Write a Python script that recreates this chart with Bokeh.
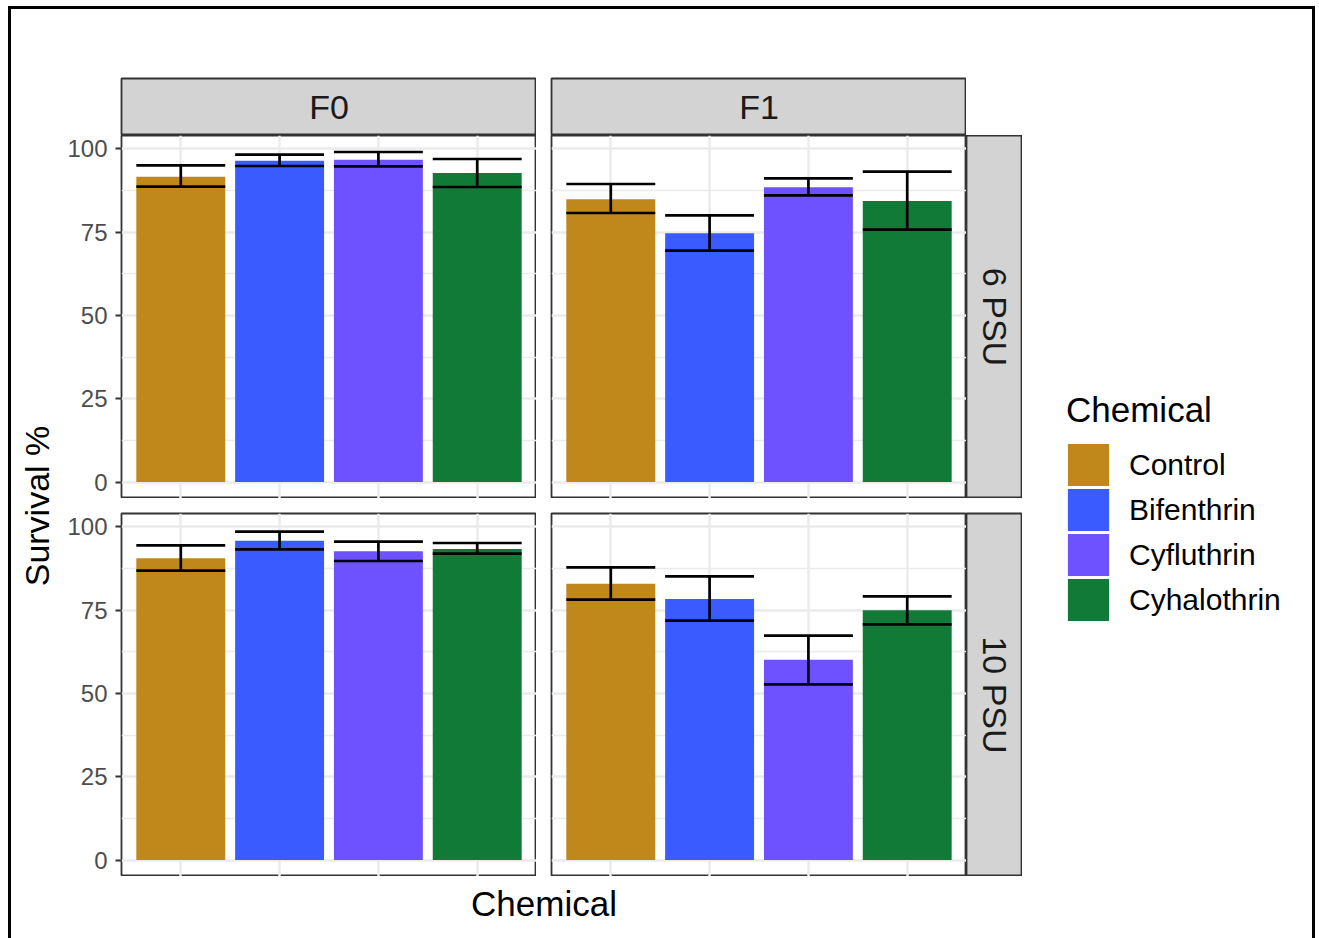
import numpy as np
from bokeh.plotting import figure
from bokeh.models import (Range1d, FactorRange, LinearAxis, Grid, FixedTicker,
                          CategoricalTicker, ColumnDataSource, Legend, LegendItem)
from bokeh.transform import dodge
from bokeh.layouts import row, column
from bokeh.core.properties import value
from bokeh.embed import file_html
from bokeh.resources import INLINE

# ---------------- data ----------------
chemicals = ["Control", "Bifenthrin", "Cyfluthrin", "Cyhalothrin"]
colors = ["#C0871A", "#3A5BFF", "#6F52FF", "#117A36"]
generations = ["F0", "F1"]
salinities = ["6 PSU", "10 PSU"]
y_ticks = [0, 25, 50, 75, 100]
y_minor = [12.5, 37.5, 62.5, 87.5]

f0_6_mean = [91.6, 96.4, 96.7, 92.7]
f0_6_hi = [95.0, 98.2, 99.0, 96.9]
f0_6_lo = [88.6, 94.8, 94.7, 88.5]

f1_6_mean = [84.8, 74.6, 88.4, 84.3]
f1_6_hi = [89.4, 80.0, 91.1, 93.1]
f1_6_lo = [80.7, 69.4, 86.0, 75.7]

f0_10_mean = [90.5, 95.8, 92.6, 93.3]
f0_10_hi = [94.4, 98.5, 95.5, 95.1]
f0_10_lo = [86.8, 93.2, 89.7, 91.9]

f1_10_mean = [82.9, 78.3, 60.1, 74.9]
f1_10_hi = [87.8, 85.1, 67.3, 79.1]
f1_10_lo = [78.1, 71.8, 52.7, 70.7]

panel_data = {
    ("6 PSU", "F0"): (f0_6_mean, f0_6_lo, f0_6_hi),
    ("6 PSU", "F1"): (f1_6_mean, f1_6_lo, f1_6_hi),
    ("10 PSU", "F0"): (f0_10_mean, f0_10_lo, f0_10_hi),
    ("10 PSU", "F1"): (f1_10_mean, f1_10_lo, f1_10_hi),
}

FONT = "Liberation Sans"
GRID = "#EBEBEB"
DARK = "#333333"
STRIP = "#D3D3D3"

all_hi = f0_6_hi + f1_6_hi + f0_10_hi + f1_10_hi
ymax = max(all_hi)
pad = 0.05 * ymax
y_range = Range1d(-pad, ymax + pad)

PANEL_W = 415
PANEL_H = 363
LEFT_W = 60
GAP = 15
STRIP_TOP_H = 57
TOP_MARGIN = 69
STRIP_R_W = 56
XL_H = 62
YL_W = 50
LG_W = 290


def base_fig(**kw):
    opts = dict(toolbar_location=None, output_backend="svg", title=None,
                x_axis_location=None, y_axis_location=None,
                min_border_left=0, min_border_right=0,
                min_border_top=0, min_border_bottom=0,
                background_fill_color="white", border_fill_color="white")
    opts.update(kw)
    p = figure(**opts)
    p.center = [c for c in p.center if not isinstance(c, Grid)]
    return p


def make_panel(sal, gen, show_y, top_gap):
    mean, lo, hi = panel_data[(sal, gen)]
    mbl = LEFT_W if show_y else GAP
    xr = FactorRange(factors=chemicals, range_padding=0.1, range_padding_units="absolute")
    p = base_fig(x_range=xr, y_range=y_range,
                 width=mbl + PANEL_W, height=top_gap + PANEL_H,
                 min_border_left=mbl, min_border_top=top_gap,
                 outline_line_color=DARK, outline_line_width=1.8)
    p.add_layout(Grid(dimension=0, ticker=CategoricalTicker(),
                      grid_line_color=GRID, grid_line_width=2.5))
    p.add_layout(Grid(dimension=1, ticker=FixedTicker(ticks=y_ticks, minor_ticks=y_minor),
                      grid_line_color=GRID, grid_line_width=2.5,
                      minor_grid_line_color=GRID, minor_grid_line_width=1.3))
    src = ColumnDataSource(dict(chem=chemicals, mean=mean, lo=lo, hi=hi, color=colors))
    p.vbar(x="chem", top="mean", bottom=0, width=0.9, fill_color="color",
           line_color=None, source=src)
    p.segment(x0="chem", x1="chem", y0="lo", y1="hi", line_color="black",
              line_width=2.7, source=src)
    for col in ["lo", "hi"]:
        p.segment(x0=dodge("chem", -0.45, range=xr), x1=dodge("chem", 0.45, range=xr),
                  y0=col, y1=col, line_color="black", line_width=2.7, source=src)
    if show_y:
        ax = LinearAxis(ticker=FixedTicker(ticks=y_ticks))
        ax.axis_line_color = None
        ax.major_tick_line_color = DARK
        ax.major_tick_line_width = 1.8
        ax.major_tick_out = 6
        ax.major_tick_in = 0
        ax.minor_tick_line_color = None
        ax.major_label_standoff = 8
        ax.major_label_text_font = FONT
        ax.major_label_text_font_size = "24px"
        ax.major_label_text_color = "#4D4D4D"
        p.add_layout(ax, "left")
    return p


def strip_top(label, mbl):
    p = base_fig(width=mbl + PANEL_W, height=TOP_MARGIN + STRIP_TOP_H,
                 min_border_left=mbl, min_border_top=TOP_MARGIN,
                 x_range=Range1d(0, 1), y_range=Range1d(0, 1),
                 background_fill_color=STRIP, outline_line_color=DARK,
                 outline_line_width=1.8)
    p.text(x=[0.5], y=[0.5], text=[label], text_align="center", text_baseline="middle",
           text_font=value(FONT), text_font_size="34px", text_color="#1A1A1A")
    return p


def strip_right(label, top_gap):
    p = base_fig(width=STRIP_R_W, height=top_gap + PANEL_H, min_border_top=top_gap,
                 x_range=Range1d(0, 1), y_range=Range1d(0, 1),
                 background_fill_color=STRIP, outline_line_color=DARK,
                 outline_line_width=1.8)
    p.text(x=[0.5], y=[0.5], text=[label], angle=-np.pi / 2, text_align="center",
           text_baseline="middle", text_font=value(FONT), text_font_size="34px",
           text_color="#1A1A1A")
    return p


# strips row
s_f0 = strip_top(generations[0], LEFT_W)
s_f1 = strip_top(generations[1], GAP)

rows = [row(s_f0, s_f1)]
for i, sal in enumerate(salinities):
    tg = 0 if i == 0 else GAP
    pa = make_panel(sal, generations[0], True, tg)
    pb = make_panel(sal, generations[1], False, tg)
    sr = strip_right(sal, tg)
    rows.append(row(pa, pb, sr))

xl = base_fig(width=LEFT_W + 2 * PANEL_W + GAP, height=XL_H, min_border_left=LEFT_W,
              x_range=Range1d(0, 1), y_range=Range1d(0, 1), outline_line_color=None)
xl.text(x=[0.5], y=[0.565], text=["Chemical"], text_align="center", text_baseline="middle",
        text_font=value(FONT), text_font_size="35px", text_color="black")
rows.append(xl)
main = column(*rows)

TOTAL_H = TOP_MARGIN + STRIP_TOP_H + PANEL_H + GAP + PANEL_H + XL_H

yl = base_fig(width=YL_W, height=TOTAL_H, min_border_top=TOP_MARGIN + STRIP_TOP_H,
              min_border_bottom=XL_H, x_range=Range1d(0, 1), y_range=Range1d(0, 1),
              outline_line_color=None)
yl.text(x=[0.5], y=[0.5], text=["Survival %"], angle=np.pi / 2, text_align="center",
        text_baseline="middle", text_font=value(FONT), text_font_size="34px",
        text_color="black")

lg = base_fig(width=LG_W, height=TOTAL_H, x_range=Range1d(0, 1), y_range=Range1d(0, 1),
              outline_line_color=None)
items = []
for c, col in zip(chemicals, colors):
    r = lg.vbar(x=[np.nan], top=[np.nan], width=0.9, fill_color=col, line_color=col,
                line_width=6, line_join="miter")
    items.append(LegendItem(label=c, renderers=[r]))
leg = Legend(items=items, location=(44, 254), title="Chemical",
             title_text_font=FONT, title_text_font_size="35px", title_text_font_style="normal",
             title_text_color="black", title_standoff=12,
             label_text_font=FONT, label_text_font_size="30px", label_text_color="black",
             glyph_width=44, glyph_height=45, spacing=0, label_standoff=19,
             padding=0, margin=0, border_line_color=None, background_fill_alpha=0)
lg.add_layout(leg)

layout = row(yl, main, lg, styles={"border-top": "3px solid black",
                                   "border-left": "3px solid black",
                                   "border-right": "3px solid black",
                                   "margin-top": "6px", "margin-left": "8px"})

open("out.html", "w").write(file_html(layout, INLINE))
